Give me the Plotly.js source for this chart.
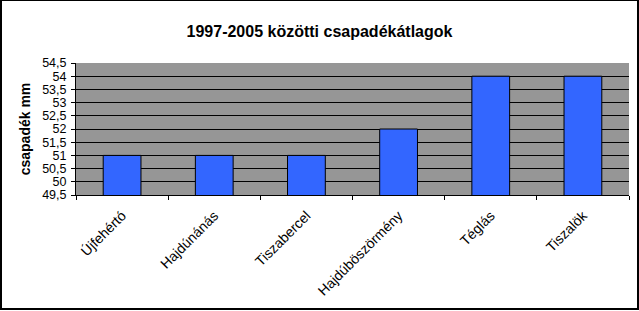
<!DOCTYPE html>
<html>
<head>
<meta charset="utf-8">
<script src="https://cdn.plot.ly/plotly-3.0.1.min.js"></script>
<style>
html,body{margin:0;padding:0;background:#fff;}
#wrap{position:absolute;left:0;top:0;width:639px;height:311px;}
#frame{position:absolute;left:0;top:0;width:635px;height:307px;border-left:2px solid #000;border-top:1px solid #000;border-right:2px solid #000;border-bottom:2px solid #000;pointer-events:none;}
</style>
</head>
<body>
<div id="wrap"><div id="chart"></div><div id="frame"></div></div>
<script>
var categories = ["Újfehértó", "Hajdúnánás", "Tiszabercel", "Hajdúböszörmény", "Téglás", "Tiszalök"];
var values = [51, 51, 51, 52, 54, 54];
var yTickVals = [49.5, 50, 50.5, 51, 51.5, 52, 52.5, 53, 53.5, 54, 54.5];
var gridVals = [49.5, 50, 50.5, 51, 51.5, 52, 52.5, 53, 53.5, 54];
var titleText = "1997-2005 közötti csapadékátlagok";
var yTitle = "csapadék mm";

var font = "Arial, 'Liberation Sans', sans-serif";

var data = [
  {
    type: "bar",
    x: categories,
    y: values,
    width: 0.41,
    marker: {color: "#3366FF", line: {color: "#000", width: 1}},
    hoverinfo: "none"
  },
  {
    type: "scatter", mode: "none",
    x: [categories[0]], y: [50], yaxis: "y2", hoverinfo: "none", showlegend: false
  }
];

var layout = {
  width: 639, height: 311,
  margin: {l: 76, r: 10, t: 63, b: 116, pad: 0},
  paper_bgcolor: "#fff",
  plot_bgcolor: "#969696",
  showlegend: false,
  separators: ", ",
  font: {family: font, color: "#000", size: 13},
  title: {
    text: "<b>" + titleText + "</b>",
    font: {family: font, size: 16, color: "#000"},
    x: 0.5, xref: "container", xanchor: "center",
    y: 20, yref: "container", yanchor: "middle"
  },
  xaxis: {
    type: "category",
    range: [-0.5, 5.5],
    tickson: "boundaries",
    ticks: "outside", ticklen: 4, tickwidth: 1, tickcolor: "#000",
    showgrid: false,
    showline: true, linecolor: "#000", linewidth: 1,
    tickangle: -45,
    ticklabelstandoff: 6,
    tickfont: {family: font, size: 14, color: "#000"},
    fixedrange: true
  },
  yaxis: {
    range: [49.5, 54.5],
    tickvals: yTickVals,
    ticks: "outside", ticklen: 4, tickwidth: 1, tickcolor: "#000",
    showgrid: false,
    zeroline: false,
    showline: true, linecolor: "#000", linewidth: 1,
    tickfont: {family: font, size: 12.5, color: "#000"},
    ticklabelstandoff: 2,
    title: {text: "<b>" + yTitle + "</b>", font: {family: font, size: 14, color: "#000"}, standoff: 8},
    fixedrange: true
  },
  yaxis2: {
    overlaying: "y",
    side: "left",
    range: [49.5, 54.5],
    tickvals: gridVals,
    showticklabels: false,
    ticks: "",
    showgrid: true, gridcolor: "#000", gridwidth: 1,
    zeroline: false,
    showline: false,
    fixedrange: true
  }
};

Plotly.newPlot("chart", data, layout, {displayModeBar: false, staticPlot: true});
</script>
</body>
</html>
